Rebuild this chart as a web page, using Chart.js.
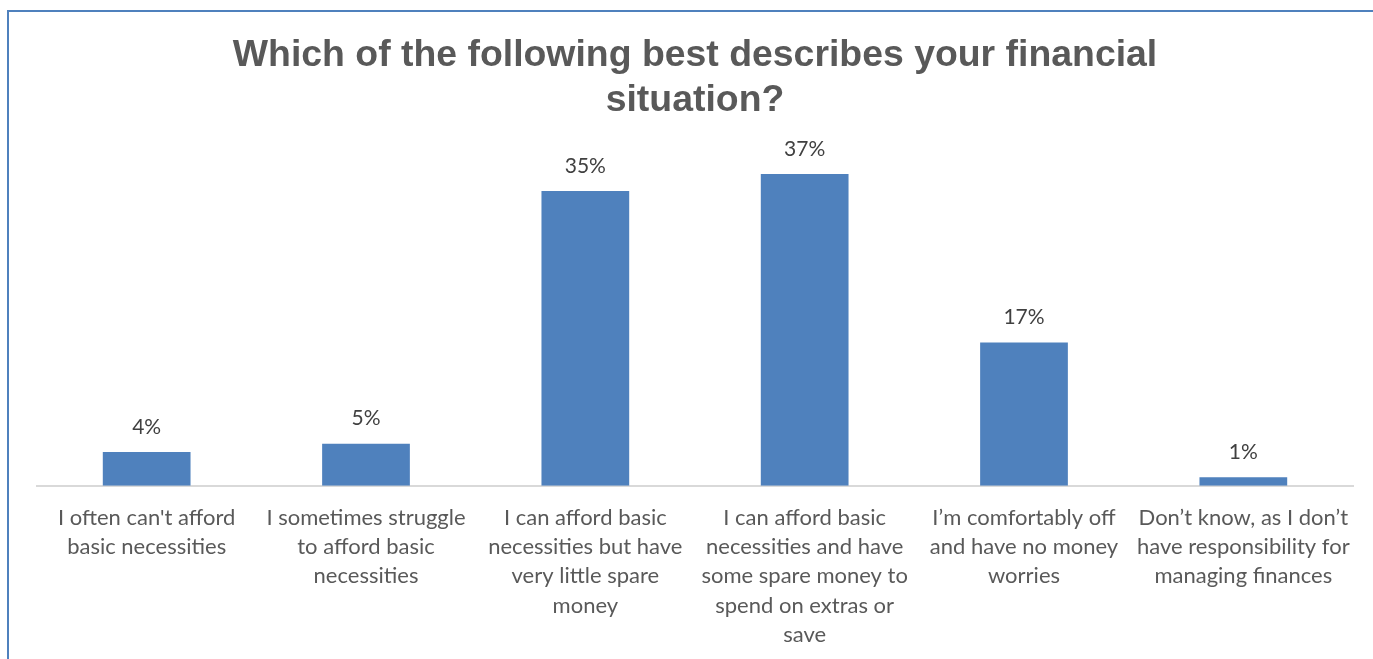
<!DOCTYPE html>
<html>
<head>
<meta charset="utf-8">
<script src="https://cdn.jsdelivr.net/npm/chart.js@4"></script>
<style>
  html, body { margin: 0; padding: 0; background: #ffffff; overflow: hidden; }
  #frame {
    position: absolute; left: 7px; top: 10px; width: 1380px; height: 660px;
    border-left: 2px solid #4F81BD; border-top: 2px solid #4F81BD;
    box-sizing: border-box;
  }
  #wrap { position: absolute; left: 0; top: 0; width: 1373px; height: 667px; }
</style>
</head>
<body>
<div id="frame"></div>
<div id="wrap"><canvas id="c" width="1373" height="667"></canvas></div>
<script>
const titleLines = ["Which of the following best describes your financial", "situation?"];
const categories = [
  ["I often can't afford", "basic necessities"],
  ["I sometimes struggle", "to afford basic", "necessities"],
  ["I can afford basic", "necessities but have", "very little spare", "money"],
  ["I can afford basic", "necessities and have", "some spare money to", "spend on extras or", "save"],
  ["I\u2019m comfortably off", "and have no money", "worries"],
  ["Don\u2019t know, as I don\u2019t", "have responsibility for", "managing finances"]
];
const shares = [4, 5, 35, 37, 17, 1];
const valueLabels = ["4%", "5%", "35%", "37%", "17%", "1%"];

// Writes the percentage above each bar
const barValueLabels = {
  id: 'barValueLabels',
  afterDatasetsDraw(chart) {
    const ctx = chart.ctx;
    const meta = chart.getDatasetMeta(0);
    ctx.save();
    ctx.font = '21px Lato';
    ctx.fillStyle = '#404040';
    ctx.textAlign = 'center';
    ctx.textBaseline = 'middle';
    meta.data.forEach((bar, i) => {
      ctx.fillText(valueLabels[i], bar.x, bar.y - 25);
    });
    ctx.restore();
  }
};

new Chart(document.getElementById('c'), {
  type: 'bar',
  data: {
    labels: categories,
    datasets: [{
      data: shares,
      backgroundColor: '#4F81BD',
      borderWidth: 0,
      categoryPercentage: 1.0,
      barPercentage: 0.4
    }]
  },
  options: {
    responsive: false,
    animation: false,
    devicePixelRatio: 1,
    layout: { padding: { left: 37, right: 20, top: 0, bottom: 0 } },
    plugins: {
      legend: { display: false },
      tooltip: { enabled: false },
      title: {
        display: true,
        text: titleLines,
        color: '#595959',
        font: { family: 'Liberation Sans', size: 37.4, weight: 'bold', lineHeight: 1.2 },
        padding: { top: 33, bottom: 26 }
      }
    },
    scales: {
      x: {
        grid: { display: false, drawTicks: false },
        border: { display: true, color: '#D9D9D9', width: 2 },
        ticks: {
          color: '#595959',
          font: { family: 'Lato', size: 22, lineHeight: 1.32 },
          maxRotation: 0,
          minRotation: 0,
          autoSkip: false,
          padding: 18
        }
      },
      y: {
        display: false,
        min: 0,
        max: 40
      }
    }
  },
  plugins: [barValueLabels]
});
</script>
</body>
</html>
